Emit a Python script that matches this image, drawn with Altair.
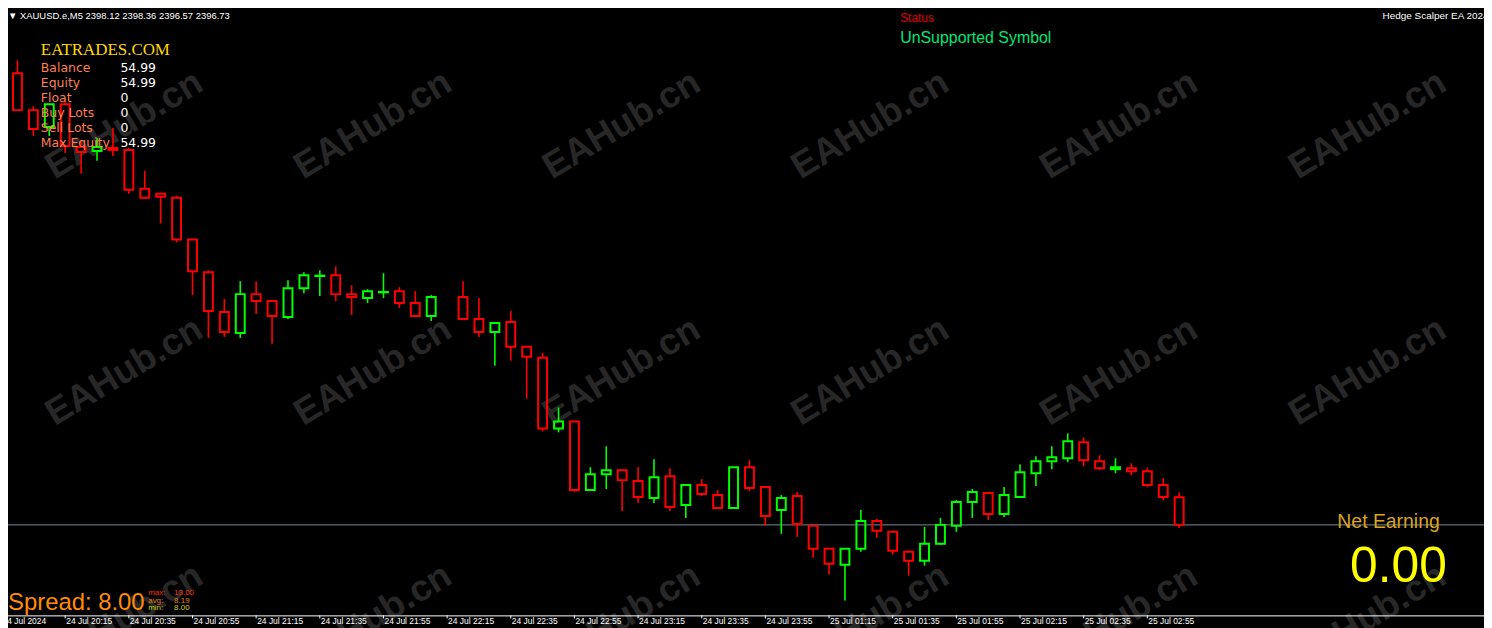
import altair as alt
import pandas as pd

# ---------------- data ----------------
bar_index = [i for i in range(75) if i != 28]
highs = [2421.53, 2420.08, 2417.78, 2417.88, 2417.98, 2416.03, 2416.18, 2416.68, 2415.68, 2414.53,
         2413.43, 2413.28, 2411.08, 2409.53, 2408.08, 2408.98, 2408.98, 2408.03, 2409.03, 2409.43,
         2409.53, 2409.73, 2408.78, 2408.58, 2409.38, 2408.68, 2408.48, 2408.28,
         2408.98, 2408.13, 2406.93, 2407.48, 2405.73, 2405.38, 2402.63, 2401.93, 2399.63,
         2400.68, 2399.53, 2399.63, 2400.03, 2399.58, 2398.78, 2399.03, 2398.48, 2399.63, 2399.98,
         2398.68, 2398.23, 2398.38, 2396.68, 2395.53, 2395.53, 2397.48, 2397.03, 2396.38, 2395.43,
         2396.63, 2397.08, 2397.98, 2398.53, 2398.33, 2398.63, 2399.78, 2400.18, 2400.68, 2401.33,
         2401.13, 2400.23, 2400.08, 2399.83, 2399.58, 2399.08, 2398.36]
opens = [2421.43, 2419.43, 2417.58, 2416.73, 2417.88, 2415.73, 2415.53, 2415.68, 2415.58, 2413.63,
         2413.38, 2413.18, 2411.08, 2409.43, 2407.43, 2406.38, 2408.33, 2407.98, 2407.18, 2408.63,
         2409.24, 2409.28, 2408.33, 2408.13, 2408.42, 2408.48, 2407.88, 2407.23,
         2408.18, 2407.08, 2406.43, 2406.93, 2405.68, 2405.13, 2401.58, 2401.93, 2398.48,
         2399.28, 2399.48, 2398.93, 2398.08, 2399.18, 2397.73, 2398.73, 2398.23, 2397.58, 2399.63,
         2398.63, 2397.48, 2398.18, 2396.68, 2395.53, 2394.73, 2395.53, 2396.93, 2396.38, 2395.38,
         2394.93, 2395.78, 2396.68, 2397.88, 2398.33, 2397.28, 2398.13, 2399.33, 2399.93, 2400.08,
         2400.88, 2399.93, 2399.53, 2399.58, 2399.43, 2398.73, 2398.12]
closes = [2419.48, 2417.58, 2416.63, 2417.88, 2415.78, 2415.48, 2415.73, 2415.58, 2413.58, 2413.18,
          2413.23, 2411.08, 2409.48, 2407.48, 2406.43, 2408.33, 2407.98, 2407.23, 2408.63, 2409.28,
          2409.26, 2408.33, 2408.18, 2408.48, 2408.44, 2407.88, 2407.23, 2408.18,
          2407.08, 2406.43, 2406.88, 2405.68, 2405.18, 2401.58, 2401.93, 2398.48, 2399.28,
          2399.48, 2398.98, 2398.13, 2399.13, 2397.63, 2398.73, 2398.28, 2397.58, 2399.63, 2398.58,
          2397.18, 2398.08, 2396.78, 2395.53, 2394.78, 2395.53, 2396.93, 2396.43, 2395.43, 2394.93,
          2395.78, 2396.73, 2397.88, 2398.38, 2397.28, 2398.23, 2399.38, 2399.93, 2400.13, 2400.93,
          2399.98, 2399.58, 2399.63, 2399.43, 2398.73, 2398.13, 2396.73]
lows = [2419.08, 2417.53, 2416.28, 2416.28, 2415.43, 2414.38, 2415.03, 2415.28, 2413.38, 2413.13,
        2411.88, 2410.93, 2408.28, 2406.13, 2406.18, 2406.13, 2407.33, 2405.83, 2407.08, 2408.38,
        2408.23, 2407.98, 2407.28, 2407.88, 2408.13, 2407.63, 2407.18, 2406.98,
        2407.03, 2406.18, 2404.73, 2404.98, 2403.08, 2401.43, 2401.38, 2398.38, 2398.48,
        2398.53, 2397.43, 2397.83, 2397.83, 2397.43, 2397.08, 2398.18, 2397.58, 2397.53, 2398.43,
        2396.68, 2396.28, 2396.13, 2395.08, 2394.23, 2392.93, 2395.38, 2396.08, 2395.23, 2394.18,
        2394.68, 2395.73, 2396.38, 2397.08, 2396.98, 2397.13, 2398.08, 2398.68, 2399.53, 2399.88,
        2399.68, 2399.48, 2399.33, 2399.23, 2398.63, 2397.98, 2396.57]

tick_bars = list(range(0, 73, 4))
tick_labels = ["24 Jul 2024", "24 Jul 20:15", "24 Jul 20:35", "24 Jul 20:55", "24 Jul 21:15",
               "24 Jul 21:35", "24 Jul 21:55", "24 Jul 22:15", "24 Jul 22:35", "24 Jul 22:55",
               "24 Jul 23:15", "24 Jul 23:35", "24 Jul 23:55", "25 Jul 01:15", "25 Jul 01:35",
               "25 Jul 01:55", "25 Jul 02:15", "25 Jul 02:35", "25 Jul 02:55"]

bid_price = [2396.73]
header_text = "\u25BC XAUUSD.e,M5  2398.12 2398.36 2396.57 2396.73"
ea_name = "Hedge Scalper EA 2024"
status_title = "Status"
status_text = "UnSupported Symbol"
brand = "EATRADES.COM"
panel_labels = ["Balance", "Equity", "Float", "Buy Lots", "Sell Lots", "Max Equity"]
panel_values = ["54.99", "54.99", "0", "0", "0", "54.99"]
spread_text = "Spread: 8.00"
spread_stat_labels = ["max:", "avg:", "min:"]
spread_stat_values = ["13.00", "8.19", "8.00"]
net_title = "Net Earning"
net_value = "0.00"
watermark = "EAHub.cn"

# ---------------- chart ----------------
W, H = 1484, 620
xs = alt.Scale(domain=[0.40625, 93.15625], nice=False, zero=False)
ys = alt.Scale(domain=[2391.63, 2422.63], nice=False, zero=False)

df = pd.DataFrame({"i": bar_index, "open": opens, "high": highs, "low": lows, "close": closes})
one = pd.DataFrame({"a": [0]})

layers = []

# watermarks
for cy in [116, 364, 612]:
    for cx in [117, 367, 617, 867, 1117, 1367]:
        layers.append(alt.Chart(one).mark_text(
            font="Liberation Sans", fontSize=37, fontWeight="bold", color="#272727",
            align="center", baseline="middle", angle=329
        ).encode(x=alt.value(cx), y=alt.value(cy), text=alt.value(watermark)))

# bid line
layers.append(alt.Chart(pd.DataFrame({"p": bid_price})).mark_rule(color="#778899", strokeWidth=1).encode(
    y=alt.Y("p:Q", scale=ys, axis=None), x=alt.value(0), x2=alt.value(W)))

base = alt.Chart(df).transform_calculate(
    top="max(datum.open, datum.close)",
    bot="min(datum.open, datum.close)",
    dir="datum.close >= datum.open ? 'up' : 'down'",
    xa="datum.i - 0.28",
    xb="datum.i + 0.28",
)
col = alt.Color("dir:N", scale=alt.Scale(domain=["up", "down"], range=["#00ff00", "#ff0000"]), legend=None)

layers.append(base.mark_rule(strokeWidth=1.6).encode(
    x=alt.X("i:Q", scale=xs, axis=None), y=alt.Y("high:Q", scale=ys, axis=None), y2="top:Q", color=col))
layers.append(base.mark_rule(strokeWidth=1.6).encode(
    x=alt.X("i:Q", scale=xs, axis=None), y=alt.Y("bot:Q", scale=ys, axis=None), y2="low:Q", color=col))
layers.append(base.mark_rect(filled=False, strokeWidth=2).encode(
    x=alt.X("xa:Q", scale=xs, axis=None), x2="xb:Q",
    y=alt.Y("open:Q", scale=ys, axis=None), y2="close:Q", color=col))

# time axis (drawn by hand)
AX_Y = 609
layers.append(alt.Chart(one).mark_rule(color="white", strokeWidth=1).encode(
    x=alt.value(0), x2=alt.value(W), y=alt.value(AX_Y + 0.5)))
tdf = pd.DataFrame({"i": tick_bars, "lab": tick_labels})
layers.append(alt.Chart(tdf).mark_rule(color="white", strokeWidth=1).encode(
    x=alt.X("i:Q", scale=xs, axis=None), y=alt.value(AX_Y), y2=alt.value(AX_Y + 3)))
layers.append(alt.Chart(tdf).mark_text(font="Liberation Sans", fontSize=8.5, color="white",
                                       align="left", baseline="top", dx=1).encode(
    x=alt.X("i:Q", scale=xs, axis=None), y=alt.value(AX_Y + 2), text="lab:N"))


def txt(t, x, y, size, color, font="Liberation Sans", align="left", baseline="alphabetic", weight="normal"):
    return alt.Chart(one).mark_text(font=font, fontSize=size, color=color, align=align,
                                    baseline=baseline, fontWeight=weight).encode(
        x=alt.value(x), y=alt.value(y), text=alt.value(t))


layers.append(txt(header_text, 0, 9, 9.5, "white"))
layers.append(txt(ea_name, 1382, 9, 10, "white"))
layers.append(txt(status_title, 897, 12, 12, "#e00000"))
layers.append(txt(status_text, 897, 34, 16, "#00e676"))
layers.append(txt(brand, 33, 46, 17, "#FFD700", font="Liberation Serif"))
for r, (lab, val) in enumerate(zip(panel_labels, panel_values)):
    layers.append(txt(lab, 33, 59 + 15 * r, 12.5, "#FF7F50", font="DejaVu Sans", baseline="middle"))
    layers.append(txt(val, 113, 59 + 15 * r, 12.5, "white", font="DejaVu Sans", baseline="middle"))
layers.append(txt(spread_text, 0, 603.5, 24, "#FF8C00"))
stat_colors = ["#FF3300", "#E8820C", "#CCCC00"]
for r, (lab, val) in enumerate(zip(spread_stat_labels, spread_stat_values)):
    layers.append(txt(lab, 141, 589 + 7.5 * r, 8, stat_colors[r]))
    layers.append(txt(val, 167, 589 + 7.5 * r, 8, stat_colors[r]))
layers.append(txt(net_title, 1388, 521, 19.5, "#DAA520", align="center"))
layers.append(txt(net_value, 1398, 575, 50, "#FFFF00", align="center"))

chart = alt.layer(*layers).properties(
    width=W, height=H, padding=0, background="black",
    autosize=alt.AutoSizeParams(type="none"),
).configure_view(stroke=None)

chart.save("out.html", embed_options={"renderer": "svg", "actions": False})
